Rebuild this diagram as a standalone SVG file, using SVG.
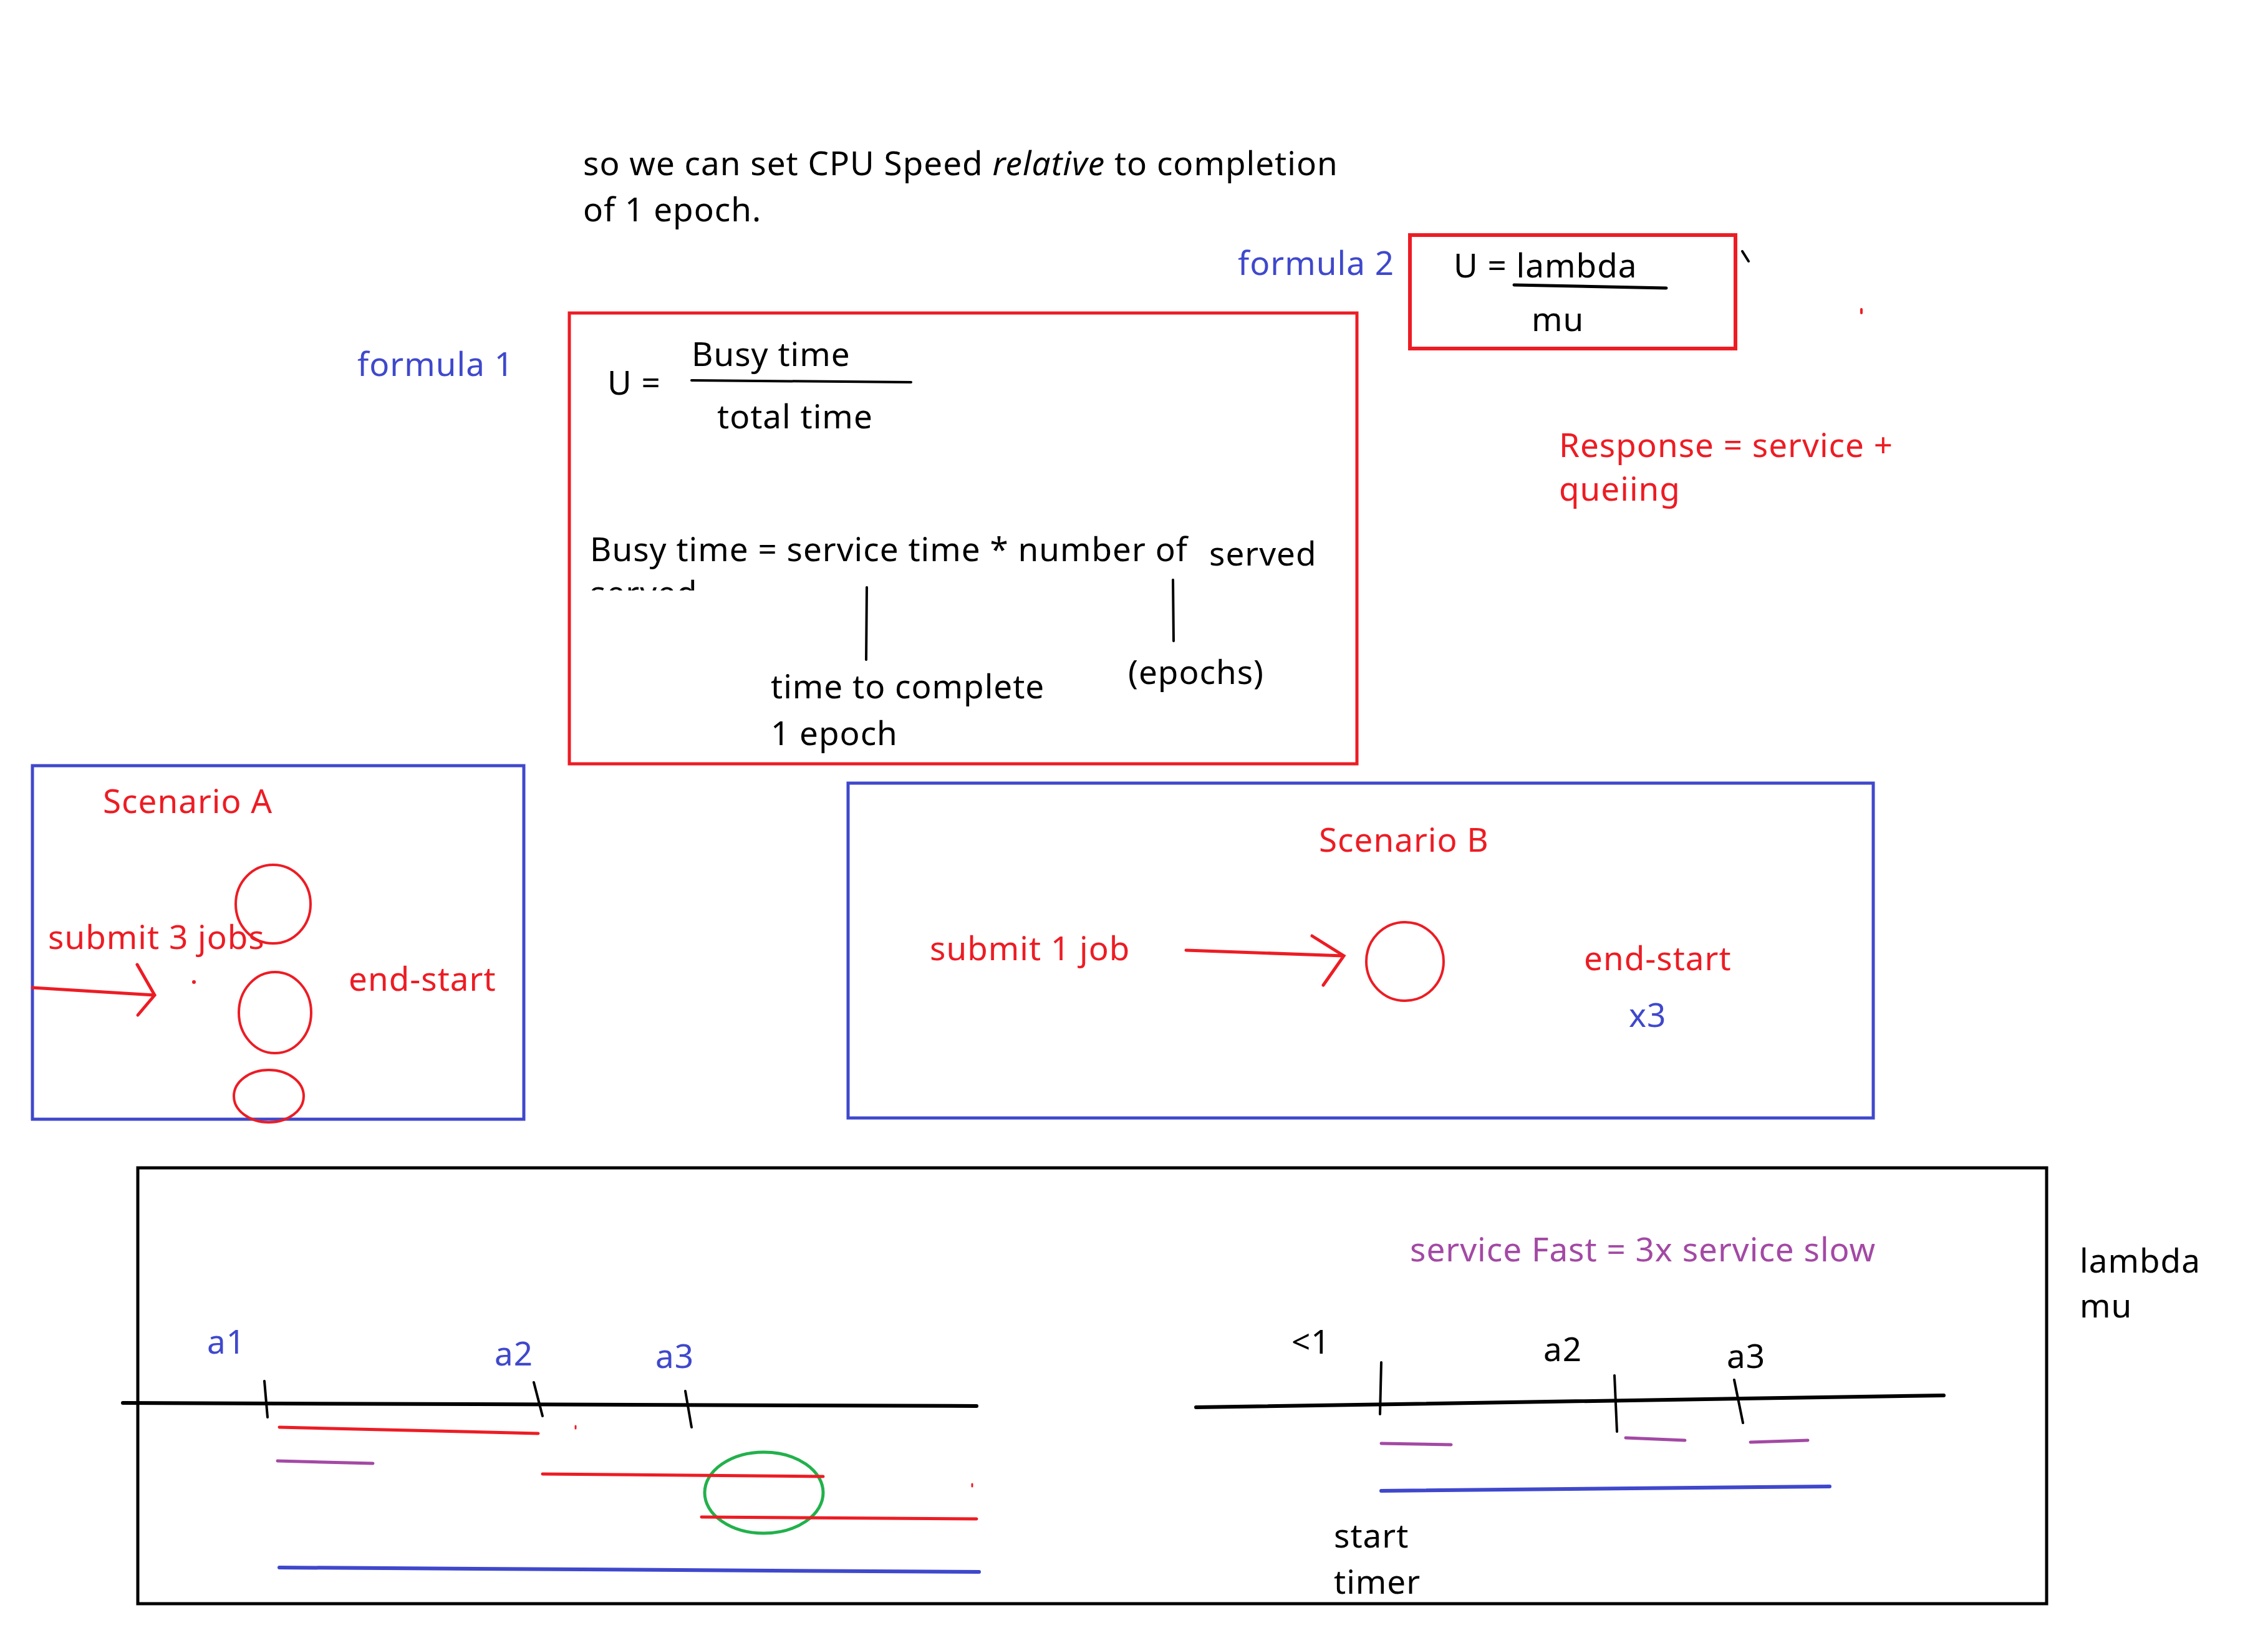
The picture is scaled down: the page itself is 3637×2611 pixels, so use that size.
<svg xmlns="http://www.w3.org/2000/svg" width="3637" height="2611" viewBox="0 0 3637 2611">
<style>
text{font-family:"Noto Sans","Open Sans","DejaVu Sans",sans-serif;font-size:53px;letter-spacing:1px}
.k{fill:#000}.b{fill:#3f48cc}.r{fill:#ed1c24}.p{fill:#a349a4}
.sk{stroke:#000;fill:none;stroke-linecap:round}
.sr{stroke:#ed1c24;fill:none;stroke-linecap:round}
.sb{stroke:#3f48cc;fill:none;stroke-linecap:round}
.sp{stroke:#a349a4;fill:none;stroke-linecap:round}
.sg{stroke:#22b14c;fill:none}
</style>
<defs>
<clipPath id="cut"><rect x="900" y="900" width="400" height="47"/></clipPath>
</defs>
<rect width="3637" height="2611" fill="#fff"/>

<g id="note-top">
<text class="k" x="935" y="281">so we can set CPU Speed <tspan font-style="italic">relative</tspan> to completion</text>
<text class="k" x="935" y="355">of 1 epoch.</text>
</g>

<g id="formula2">
<text class="b" x="1985" y="441">formula 2</text>
<rect x="2261" y="377" width="522" height="182" class="sr" stroke-width="6"/>
<text class="k" x="2331" y="445">U = lambda</text>
<text class="k" x="2456" y="531">mu</text>
<path d="M2428 457 L2672 462" class="sk" stroke-width="5"/>
</g>
<g id="marks-top">
<path d="M2794 403 L2804 419" class="sk" stroke-width="4"/>
<path d="M2985 496 L2985 502" class="sr" stroke-width="4"/>
</g>

<g id="formula1">
<text class="b" x="573" y="603">formula 1</text>
<rect x="913" y="502" width="1263" height="723" class="sr" stroke-width="5"/>
<text class="k" x="974" y="633">U =</text>
<text class="k" x="1109" y="587">Busy time</text>
<path d="M1109 610 L1461 613" class="sk" stroke-width="4"/>
<text class="k" x="1150" y="687">total time</text>
<text class="k" x="946" y="900">Busy time = service time * number of</text>
<text class="k" x="1939" y="907">served</text>
<text class="k" x="946" y="970" clip-path="url(#cut)">served</text>
<path d="M1390 942 L1389 1058" class="sk" stroke-width="4"/>
<path d="M1881 930 L1882 1028" class="sk" stroke-width="4"/>
<text class="k" x="1236" y="1120">time to complete</text>
<text class="k" x="1236" y="1195">1 epoch</text>
<text class="k" x="1809" y="1097">(epochs)</text>
</g>

<g id="response">
<text class="r" x="2500" y="733">Response = service +</text>
<text class="r" x="2500" y="803">queiing</text>
</g>

<g id="scenarioA">
<rect x="52" y="1228" width="788" height="567" class="sb" stroke-width="5"/>
<text class="r" x="165" y="1304">Scenario A</text>
<text class="r" x="77" y="1522">submit 3 jobs</text>
<text class="r" x="559" y="1589">end-start</text>
<ellipse cx="438" cy="1450" rx="60" ry="63" class="sr" stroke-width="4"/>
<ellipse cx="441" cy="1624" rx="58" ry="65" class="sr" stroke-width="4"/>
<ellipse cx="431" cy="1758" rx="56" ry="42" class="sr" stroke-width="4"/>
<circle cx="311" cy="1575" r="3" class="r"/>
</g>

<g id="scenarioB">
<rect x="1360" y="1256" width="1644" height="537" class="sb" stroke-width="5"/>
<text class="r" x="2115" y="1366">Scenario B</text>
<text class="r" x="1491" y="1540">submit 1 job</text>
<text class="r" x="2540" y="1556">end-start</text>
<text class="b" x="2612" y="1647">x3</text>
<ellipse cx="2253" cy="1542" rx="62" ry="63" class="sr" stroke-width="4"/>
</g>

<g id="timeline-box">
<rect x="221" y="1873" width="3061" height="699" class="sk" stroke-width="5"/>
<text class="p" x="2261" y="2023">service Fast = 3x service slow</text>
<text class="k" x="3335" y="2041">lambda</text>
<text class="k" x="3335" y="2113">mu</text>
</g>

<g id="timeline-left">
<text class="b" x="332" y="2171">a1</text>
<text class="b" x="793" y="2190">a2</text>
<text class="b" x="1051" y="2194">a3</text>
<ellipse cx="1225" cy="2394" rx="95" ry="65" class="sg" stroke-width="5"/>
</g>

<g id="timeline-right">
<text class="k" x="2071" y="2171">&lt;1</text>
<text class="k" x="2475" y="2183">a2</text>
<text class="k" x="2769" y="2194">a3</text>
<text class="k" x="2139" y="2482">start</text>
<text class="k" x="2139" y="2556">timer</text>
</g>

<g id="connectors">
<path d="M52 1584 L248 1596 M220 1547 L248 1596 L221 1628" class="sr" stroke-width="5"/>
<path d="M1902 1524 L2155 1533 M2104 1501 L2155 1533 L2122 1580" class="sr" stroke-width="5"/>
<path d="M197 2250 L1566 2255" class="sk" stroke-width="6"/>
<path d="M424 2215 L429 2273 M856 2217 L870 2271 M1099 2231 L1109 2289" class="sk" stroke-width="4"/>
<path d="M448 2289 L863 2299 M870 2364 L1320 2368 M1125 2433 L1566 2436" class="sr" stroke-width="5"/>
<path d="M923 2287 L923 2291 M1559 2380 L1559 2384" class="sr" stroke-width="3"/>
<path d="M445 2343 L598 2347" class="sp" stroke-width="5"/>
<path d="M448 2514 L1570 2521" class="sb" stroke-width="6"/>
<path d="M1918 2257 L3117 2238" class="sk" stroke-width="6"/>
<path d="M2215 2185 L2213 2268 M2589 2206 L2593 2296 M2781 2213 L2795 2282" class="sk" stroke-width="4"/>
<path d="M2215 2315 L2327 2317 M2607 2306 L2702 2310 M2807 2313 L2899 2310" class="sp" stroke-width="5"/>
<path d="M2215 2391 L2934 2384" class="sb" stroke-width="6"/>
</g>
</svg>
